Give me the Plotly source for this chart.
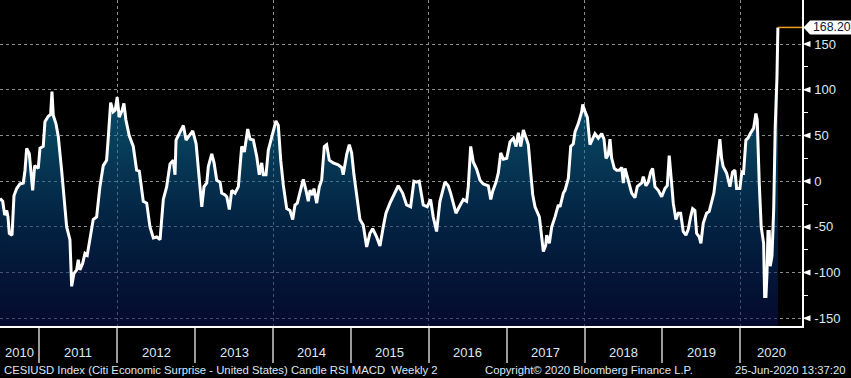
import plotly.graph_objects as go
from datetime import datetime

# ---------------- data ----------------
decimal_years = [
    2010.496, 2010.530, 2010.556, 2010.582, 2010.598, 2010.615, 2010.650, 2010.675, 2010.710, 2010.752,
    2010.795, 2010.817, 2010.838, 2010.872, 2010.915, 2010.941, 2010.987, 2011.009, 2011.051, 2011.073,
    2011.116, 2011.146, 2011.163, 2011.180, 2011.214, 2011.244, 2011.287, 2011.330, 2011.352, 2011.394,
    2011.416, 2011.445, 2011.480, 2011.501, 2011.522, 2011.557, 2011.587, 2011.616, 2011.651, 2011.693,
    2011.737, 2011.779, 2011.822, 2011.865, 2011.886, 2011.917, 2011.950, 2011.976, 2012.001, 2012.027,
    2012.062, 2012.087, 2012.113, 2012.155, 2012.207, 2012.250, 2012.284, 2012.335, 2012.379, 2012.421,
    2012.464, 2012.507, 2012.550, 2012.592, 2012.635, 2012.678, 2012.720, 2012.742, 2012.755, 2012.806,
    2012.849, 2012.883, 2012.913, 2012.969, 2013.012, 2013.050, 2013.085, 2013.114, 2013.149, 2013.169,
    2013.213, 2013.243, 2013.277, 2013.320, 2013.341, 2013.384, 2013.406, 2013.439, 2013.470, 2013.512,
    2013.555, 2013.598, 2013.632, 2013.675, 2013.705, 2013.747, 2013.791, 2013.824, 2013.855, 2013.875,
    2013.910, 2013.940, 2013.983, 2014.013, 2014.038, 2014.068, 2014.099, 2014.132, 2014.176, 2014.218,
    2014.253, 2014.282, 2014.312, 2014.347, 2014.389, 2014.424, 2014.453, 2014.475, 2014.509, 2014.526,
    2014.561, 2014.595, 2014.625, 2014.659, 2014.689, 2014.723, 2014.774, 2014.838, 2014.882, 2014.902,
    2014.946, 2014.980, 2015.010, 2015.040, 2015.074, 2015.117, 2015.159, 2015.203, 2015.245, 2015.280,
    2015.331, 2015.374, 2015.416, 2015.451, 2015.502, 2015.553, 2015.609, 2015.665, 2015.716, 2015.768,
    2015.810, 2015.845, 2015.878, 2015.930, 2015.981, 2016.024, 2016.058, 2016.101, 2016.144, 2016.208,
    2016.250, 2016.281, 2016.315, 2016.349, 2016.392, 2016.443, 2016.486, 2016.507, 2016.538, 2016.571,
    2016.615, 2016.657, 2016.700, 2016.764, 2016.795, 2016.820, 2016.863, 2016.892, 2016.923, 2016.957,
    2017.000, 2017.042, 2017.085, 2017.119, 2017.149, 2017.180, 2017.213, 2017.248, 2017.277, 2017.308,
    2017.334, 2017.363, 2017.419, 2017.449, 2017.470, 2017.501, 2017.513, 2017.547, 2017.578, 2017.620,
    2017.663, 2017.684, 2017.727, 2017.748, 2017.791, 2017.822, 2017.855, 2017.877, 2017.919, 2017.963,
    2017.976, 2018.005, 2018.035, 2018.069, 2018.104, 2018.133, 2018.176, 2018.220, 2018.249, 2018.275,
    2018.304, 2018.326, 2018.348, 2018.382, 2018.412, 2018.446, 2018.477, 2018.497, 2018.519, 2018.561,
    2018.605, 2018.647, 2018.677, 2018.733, 2018.754, 2018.788, 2018.818, 2018.849, 2018.874, 2018.904,
    2018.946, 2018.990, 2019.032, 2019.062, 2019.087, 2019.118, 2019.139, 2019.173, 2019.203, 2019.234,
    2019.267, 2019.302, 2019.331, 2019.362, 2019.388, 2019.417, 2019.439, 2019.472, 2019.494, 2019.524,
    2019.567, 2019.601, 2019.631, 2019.661, 2019.696, 2019.716, 2019.738, 2019.760, 2019.780, 2019.824,
    2019.867, 2019.901, 2019.931, 2019.953, 2019.995, 2020.020, 2020.042, 2020.072, 2020.098, 2020.127,
    2020.171, 2020.200, 2020.217, 2020.243, 2020.268, 2020.299, 2020.312, 2020.329, 2020.342, 2020.355,
    2020.371, 2020.384, 2020.406, 2020.428, 2020.448, 2020.470, 2020.482,
]
values = [
    -19, -22, -37, -32, -39, -57, -59, -16, -8, -3,
    -2, 12, 36, 30, -10, 17, 14, 36, 38, 65,
    71, 73, 98, 72, 63, 49, 12, -35, -50, -64,
    -115, -101, -97, -86, -97, -90, -79, -81, -64, -42,
    -39, -6, 17, 23, 47, 86, 76, 78, 92, 70,
    77, 85, 67, 50, 38, 12, 11, -22, -24, -50,
    -62, -61, -64, -20, -6, 19, 23, 7, 45, 54,
    61, 45, 49, 55, 41, 5, -28, -6, -2, 16,
    30, 20, 1, -1, -13, -15, -17, -31, -10, -13,
    -6, 38, 32, 57, 46, 45, 27, 7, 20, 7,
    7, 34, 49, 56, 66, 61, 23, -4, -30, -32,
    -42, -26, -24, -12, 2, -10, -22, -10, -15, -8,
    -24, -6, 1, 38, 40, 23, 20, 18, 15, 7,
    29, 40, 31, 7, -13, -42, -48, -72, -57, -52,
    -61, -71, -50, -35, -24, -15, -5, -13, -26, -28,
    0, -1, 0, -26, -28, -20, -39, -55, -22, -1,
    -5, -13, -24, -35, -28, -20, -22, -6, 38, 21,
    13, 1, -3, -5, -20, -11, -1, 9, 31, 24,
    25, 43, 47, 38, 53, 38, 56, 46, 40, 9,
    -15, -28, -39, -61, -77, -70, -59, -68, -50, -39,
    -26, -28, -13, -10, 3, 38, 41, 54, 63, 76,
    84, 76, 70, 40, 46, 52, 47, 52, 46, 25,
    29, 46, 25, 14, 12, 12, 15, -2, 14, 1,
    -13, -18, -6, -2, 5, -5, -1, 10, 14, -6,
    -10, -17, -8, -5, 28, -2, -24, -42, -35, -35,
    -55, -59, -53, -39, -30, -32, -57, -61, -68, -46,
    -35, -33, -24, -13, 12, 31, 46, 25, 16, 9,
    -6, 10, 12, -8, -8, 10, 9, 45, 47, 52,
    58, 74, 67, -2, -50, -68, -126, -126, -101, -55,
    -55, -93, -82, -31, 60, 114, 168.20,
]
year_labels = [2010, 2011, 2012, 2013, 2014, 2015, 2016, 2017, 2018, 2019, 2020]
grid_years = [2012, 2014, 2016, 2018, 2020]
y_ticks = [-150, -100, -50, 0, 50, 100, 150]
y_minor = [-125, -75, -25, 25, 75, 125]
series_text = "CESIUSD Index (Citi Economic Surprise - United States) Candle RSI MACD  Weekly 2"
copyright_text = "Copyright\u00a9 2020 Bloomberg Finance L.P."
stamp_text = "25-Jun-2020 13:37:20"

# ---------------- helpers ----------------
def dec_to_date(d):
    y = int(d)
    a, b = datetime(y, 1, 1), datetime(y + 1, 1, 1)
    return a + (b - a) * (d - y)

dates = [dec_to_date(d) for d in decimal_years]
X0, X1 = dec_to_date(2010.4955), dec_to_date(2020.7907)
Y0, Y1 = -158.4, 198.2

W, H = 851, 378
ML, MR, MT, MB = 0, 49, 0, 52
PW, PH = W - ML - MR, H - MT - MB
px = 1.0 / PW
py = 1.0 / PH

def ypaper(v):
    return (v - Y0) / (Y1 - Y0)

FONT = "Liberation Sans, Arial, sans-serif"
TXT = "#dce8f5"
GRID = "#8c8c8c"

fig = go.Figure()
fig.add_trace(go.Scatter(x=[dates[0], dates[-1]], y=[Y0, Y0], mode="lines",
                         line=dict(width=0, color="rgba(0,0,0,0)"),
                         hoverinfo="skip", showlegend=False))
fig.add_trace(go.Scatter(
    x=dates, y=values, mode="lines",
    line=dict(color="white", width=3),
    fill="tonexty",
    fillgradient=dict(type="vertical", start=Y0, stop=100,
                      colorscale=[[0.0, "rgba(9,18,82,0.55)"],
                                  [0.42, "rgba(5,60,118,0.55)"],
                                  [1.0, "rgba(18,145,191,0.55)"]]),
    showlegend=False, hoverinfo="skip"))

shapes = []
# y tick triangles
for v in y_ticks:
    yp = ypaper(v)
    shapes.append(dict(type="path", xref="paper", yref="paper",
                       path=f"M {1 + 0.5*px},{yp} L {1 + 8.5*px},{yp + 3*py} L {1 + 8.5*px},{yp - 3*py} Z",
                       fillcolor="white", line=dict(width=0)))
# last value tag
last = values[-1]
ly = ypaper(last)
shapes.append(dict(type="path", xref="paper", yref="paper",
                   path=(f"M {1 + 1.5*px},{ly} L {1 + 8*px},{ly + 7*py} L {1 + 60*px},{ly + 7*py} "
                         f"L {1 + 60*px},{ly - 7*py} L {1 + 8*px},{ly - 7*py} Z"),
                   fillcolor="white", line=dict(width=0)))
shapes.append(dict(type="line", xref="x", yref="y", x0=dates[-1], x1=X1, y0=last, y1=last,
                   line=dict(color="#f39a1e", width=1.5)))

annotations = [dict(xref="paper", yref="paper", x=1 + 8.5*px, y=ly, xanchor="left", yanchor="middle",
                    text=f"{last:.2f}", showarrow=False,
                    font=dict(family=FONT, size=12.3, color="#0b1a33"))]
# year labels centred in visible part of each year
for yr in year_labels:
    a = max(datetime(yr, 1, 1), X0)
    b = min(datetime(yr + 1, 1, 1), X1)
    annotations.append(dict(xref="x", yref="paper", x=a + (b - a) / 2, y=-26*py,
                            xanchor="center", yanchor="middle", text=str(yr), showarrow=False,
                            font=dict(family=FONT, size=13, color=TXT)))
annotations.append(dict(xref="paper", yref="paper", x=2*px, y=-44*py, xanchor="left", yanchor="middle",
                        text=series_text, showarrow=False, font=dict(family=FONT, size=11.3, color=TXT)))
annotations.append(dict(xref="paper", yref="paper", x=483*px, y=-44*py, xanchor="left", yanchor="middle",
                        text=copyright_text, showarrow=False, font=dict(family=FONT, size=11.3, color=TXT)))
annotations.append(dict(xref="paper", yref="paper", x=848*px, y=-44*py, xanchor="right", yanchor="middle",
                        text=stamp_text, showarrow=False, font=dict(family=FONT, size=11.3, color=TXT)))

fig.update_layout(
    width=W, height=H, margin=dict(l=ML, r=MR, t=MT, b=MB),
    paper_bgcolor="black", plot_bgcolor="black",
    showlegend=False, shapes=shapes, annotations=annotations,
    xaxis=dict(type="date", range=[X0, X1], tickmode="array",
               tickvals=[datetime(y, 1, 1) for y in grid_years],
               showticklabels=False, ticks="outside", ticklen=35, tickwidth=1.5, tickcolor="#9a9a9a",
               showgrid=True, gridcolor=GRID, griddash="3px,3px", gridwidth=1,
               minor=dict(dtick="M12", tick0="2011-01-01", ticks="outside", ticklen=35,
                          tickwidth=1.5, tickcolor="#9a9a9a", showgrid=False),
               showline=True, linecolor="white", linewidth=2, zeroline=False, fixedrange=True),
    yaxis=dict(side="right", range=[Y0, Y1], tickmode="array", tickvals=y_ticks,
               ticktext=[str(v) for v in y_ticks],
               ticks="outside", ticklen=8, tickcolor="rgba(0,0,0,0)",
               tickfont=dict(family=FONT, size=13, color=TXT),
               showgrid=True, gridcolor=GRID, griddash="3px,3px", gridwidth=1,
               minor=dict(tickmode="array", tickvals=y_minor, ticks="outside", ticklen=4,
                          tickcolor="white", tickwidth=1, showgrid=False),
               showline=True, linecolor="white", linewidth=1.5, zeroline=False, fixedrange=True),
)

fig.write_html("out.html", config={"displayModeBar": False},
               post_script="document.body.style.margin='0';document.body.style.background='black';")
